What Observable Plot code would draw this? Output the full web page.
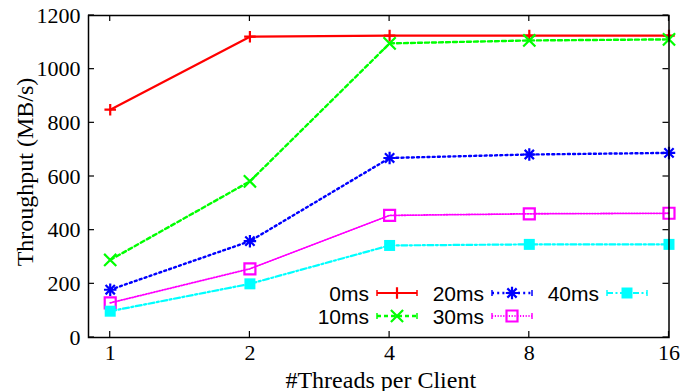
<!DOCTYPE html>
<html>
<head>
<meta charset="utf-8">
<script src="https://cdn.jsdelivr.net/npm/d3@7"></script>
<script src="https://cdn.jsdelivr.net/npm/@observablehq/plot@0.6"></script>
<style>
  html, body { margin: 0; padding: 0; background: #fff; }
  #chart { width: 686px; height: 391px; overflow: hidden; }
</style>
</head>
<body>
<div id="chart"></div>
<script>
// Throughput (MB/s) by number of threads per client, one series per injected delay
const threads = [1, 2, 4, 8, 16];
const delays = ["0ms", "10ms", "20ms", "30ms", "40ms"];
const tput0ms  = [849, 1121, 1125, 1125, 1125];
const tput10ms = [289, 582, 1096, 1107, 1111];
const tput20ms = [178, 359, 669, 682, 688];
const tput30ms = [129, 256, 455, 461, 463];
const tput40ms = [98, 200, 343, 347, 347];
const yTicks = [0, 200, 400, 600, 800, 1000, 1200];
const xTicks = [1, 2, 4, 8, 16];

const values = [tput0ms, tput10ms, tput20ms, tput30ms, tput40ms];
const colors = ["#ff0000", "#00ff00", "#0000ff", "#ff00ff", "#00ffff"];
const dashes = [null, "4,3", "2,3.2", "1.2,1.6", "6,2.5,2,2.5"];
const widths = [2.2, 2.4, 2.4, 1.8, 2.2];
// symbol layers per series: [symbol, radius]; the 20ms star is a plus over a cross
const symbols = [
  [["plus", 3.8]],
  [["times", 5.6]],
  [["plus", 4.1], ["times", 4.3]],
  [["square", 6.2]],
  [["square", 6.2]]
];
const filled = [false, false, false, false, true];

const rows = delays.flatMap((d, i) =>
  threads.map((t, j) => ({delay: d, threads: t, value: values[i][j]})));

const W = 686, H = 391;
const mL = 88, mR = 17.5, mT = 15, mB = 54;
// leave room left of the first category inside the frame
const xLo = Math.pow(2, -21.7 / 139.6);

const serif = "'Liberation Serif', 'Times New Roman', serif";
const sans = "'Liberation Sans', Arial, sans-serif";

const seriesMarks = delays.flatMap((d, i) => {
  const data = rows.filter(r => r.delay === d);
  const marks = [
    Plot.line(data, {x: "threads", y: "value", stroke: colors[i], strokeWidth: widths[i],
      strokeDasharray: dashes[i] || undefined})
  ];
  for (const [s, r] of symbols[i]) {
    marks.push(Plot.dot(data, {x: "threads", y: "value", symbol: () => s, r,
      stroke: filled[i] ? "none" : colors[i], fill: filled[i] ? colors[i] : "none",
      strokeWidth: 2.2}));
  }
  return marks;
});

const chart = Plot.plot({
  width: W, height: H,
  marginLeft: mL, marginRight: mR, marginTop: mT, marginBottom: mB,
  style: {fontFamily: serif, background: "#fff", overflow: "visible"},
  x: {type: "log", base: 2, domain: [xLo, 16]},
  y: {domain: [0, 1200]},
  symbol: {type: "identity"},
  marks: [
    // tick labels
    Plot.axisY(yTicks, {anchor: "left", tickSize: 0, tickPadding: 8, label: null,
      fontSize: 22, fill: "#000", tickFormat: d => String(d)}),
    Plot.axisX(xTicks, {anchor: "bottom", tickSize: 0, tickPadding: 7, label: null,
      fontSize: 22, fill: "#000", tickFormat: d => String(d)}),
    Plot.text(["#Threads per Client"], {frameAnchor: "bottom", dy: 50, dx: 2,
      fontSize: 24, fill: "#000", fontFamily: serif, lineAnchor: "bottom"}),
    ...seriesMarks,
    Plot.frame({stroke: "#000", strokeWidth: 1.5})
  ]
});

document.getElementById("chart").appendChild(chart);

const svg = d3.select(chart);
const sx = chart.scale("x"), sy = chart.scale("y");
const [fx0, fx1] = [mL, W - mR], [fy0, fy1] = [mT, H - mB];
const tickLen = 6;

// inward ticks mirrored on all four sides
const ticks = svg.append("g").attr("stroke", "#000").attr("stroke-width", 1.2);
for (const v of yTicks) {
  const y = sy.apply(v);
  ticks.append("line").attr("x1", fx0).attr("x2", fx0 + tickLen).attr("y1", y).attr("y2", y);
  ticks.append("line").attr("x1", fx1).attr("x2", fx1 - tickLen).attr("y1", y).attr("y2", y);
}
for (const v of xTicks) {
  const x = sx.apply(v);
  ticks.append("line").attr("x1", x).attr("x2", x).attr("y1", fy1).attr("y2", fy1 - tickLen);
  ticks.append("line").attr("x1", x).attr("x2", x).attr("y1", fy0).attr("y2", fy0 + tickLen);
}

// y-axis title
svg.append("text")
  .attr("transform", `translate(25,${(fy0 + fy1) / 2 - 4}) rotate(-90)`)
  .attr("text-anchor", "middle").attr("dominant-baseline", "central")
  .attr("font-family", serif).attr("font-size", 24).attr("fill", "#000")
  .text("Throughput (MB/s)");

// Key: two rows, filled column by column
const key = svg.append("g").attr("class", "key");
const colRight = [369, 484, 599];
const rowY = [293, 316];
const sampleGap = 8, sampleLen = 40;
delays.forEach((d, i) => {
  const col = Math.floor(i / 2), row = i % 2;
  const xr = colRight[col], y = rowY[row];
  key.append("text")
    .attr("x", xr).attr("y", y)
    .attr("text-anchor", "end").attr("dominant-baseline", "central")
    .attr("font-family", sans).attr("font-size", 21).attr("fill", "#000")
    .text(d);
  const x0 = xr + sampleGap, x1 = x0 + sampleLen, xm = (x0 + x1) / 2;
  const g = key.append("g").attr("stroke", colors[i]).attr("stroke-width", widths[i]).attr("fill", "none");
  g.append("line").attr("x1", x0).attr("x2", x1).attr("y1", y).attr("y2", y)
    .attr("stroke-dasharray", dashes[i] || null);
  g.append("line").attr("x1", x0).attr("x2", x0).attr("y1", y - 3).attr("y2", y + 3).attr("stroke-width", 1.5);
  g.append("line").attr("x1", x1).attr("x2", x1).attr("y1", y - 3).attr("y2", y + 3).attr("stroke-width", 1.5);
  for (const [s, r] of symbols[i]) {
    const sym = {plus: d3.symbolPlus, times: d3.symbolTimes, square: d3.symbolSquare}[s];
    key.append("path")
      .attr("transform", `translate(${xm},${y})`)
      .attr("d", d3.symbol(sym, Math.PI * r * r)())
      .attr("stroke", filled[i] ? "none" : colors[i])
      .attr("fill", filled[i] ? colors[i] : "none")
      .attr("stroke-width", 2.2);
  }
});
</script>
</body>
</html>
